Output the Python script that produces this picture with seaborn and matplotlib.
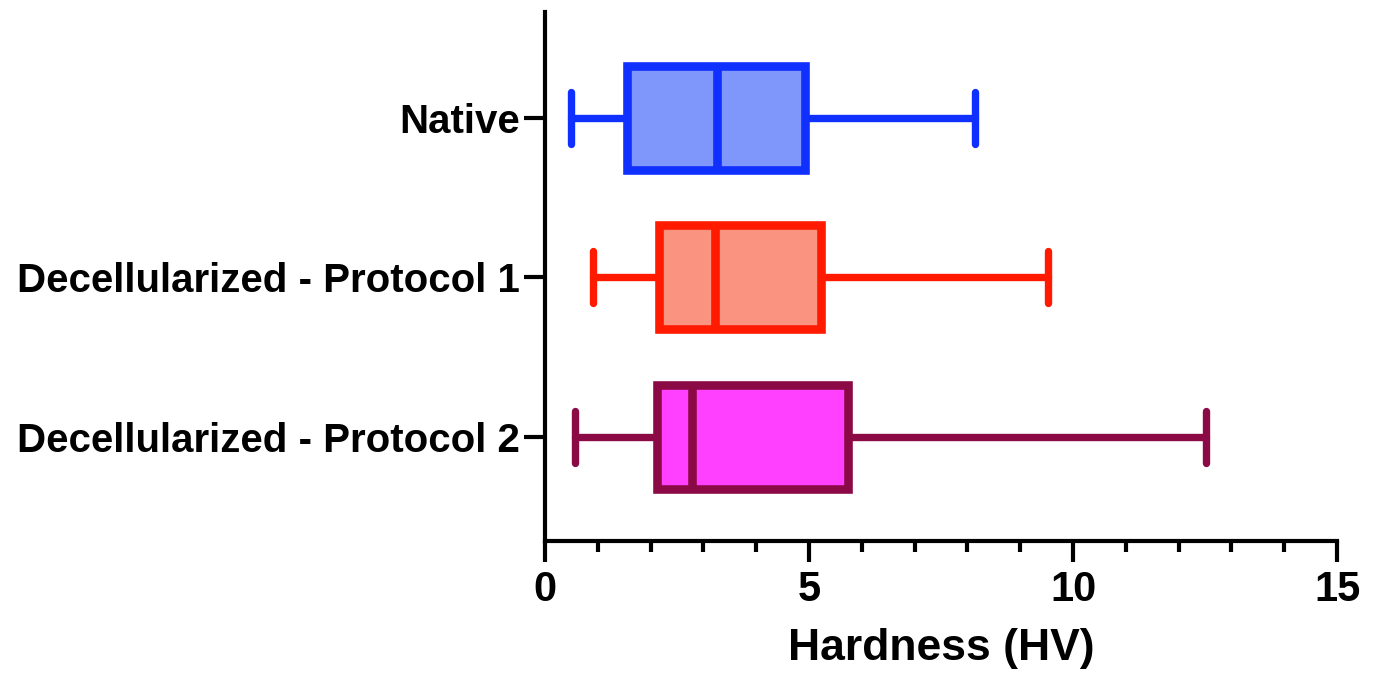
import pandas as pd
import matplotlib.pyplot as plt
import seaborn as sns

# five-number summaries (min, Q1, median, Q3, max)
groups = ['Native', 'Decellularized - Protocol 1', 'Decellularized - Protocol 2']
native = [0.50, 1.55, 3.26, 4.92, 8.15]
protocol1 = [0.91, 2.15, 3.21, 5.23, 9.53]
protocol2 = [0.56, 2.12, 2.79, 5.73, 12.52]
fill_colors = ['#7F96FA', '#FA9480', '#FF40FF']
edge_colors = ['#1030FF', '#FF1A00', '#8B0A45']

valores = [native, protocol1, protocol2]
tabela = pd.DataFrame({
    'grupo': [g for g, v in zip(groups, valores) for _ in v],
    'hv': [x for v in valores for x in v],
})

sns.set_style('ticks')
plt.rcParams['font.family'] = ['Liberation Sans', 'DejaVu Sans']
plt.rcParams['font.weight'] = 'bold'
for k in ['text.color', 'axes.labelcolor', 'xtick.color', 'ytick.color']:
    plt.rcParams[k] = 'black'

fig = plt.figure(figsize=(13.75, 6.73), dpi=100)
ax = fig.add_axes([0.3964, 0.196, 0.576, 0.786])

# one call per group so each box gets its own edge colour
for g, fc, ec in zip(groups, fill_colors, edge_colors):
    sns.boxplot(data=tabela[tabela['grupo'] == g], x='hv', y='grupo', order=groups,
                color=fc, linecolor=ec, saturation=1, width=0.65, whis=(0, 100),
                linewidth=6.2, fliersize=0,
                whiskerprops={'solid_capstyle': 'round', 'linewidth': 5.3},
                capprops={'solid_capstyle': 'round', 'linewidth': 5.3},
                medianprops={'solid_capstyle': 'butt'},
                ax=ax)

ax.set_xlim(0, 15)
ax.set_ylim(2.65, -0.66)
ax.set_xticks([0, 5, 10, 15])
ax.set_xticks(range(0, 16), minor=True)
ax.set_xlabel('Hardness (HV)', fontsize=32, fontweight='bold', labelpad=13)
ax.set_ylabel('')

for s in ['top', 'right']:
    ax.spines[s].set_visible(False)
for s in ['left', 'bottom']:
    ax.spines[s].set_linewidth(3)
    ax.spines[s].set_color('black')

ax.tick_params(axis='x', which='major', length=15, width=3, labelsize=30, pad=6)
ax.tick_params(axis='x', which='minor', length=8, width=3)
ax.tick_params(axis='y', length=15, width=3, labelsize=29, pad=3)
for t in ax.get_xticklabels() + ax.get_yticklabels():
    t.set_fontweight('bold')

fig.savefig('out.png', dpi=100)
